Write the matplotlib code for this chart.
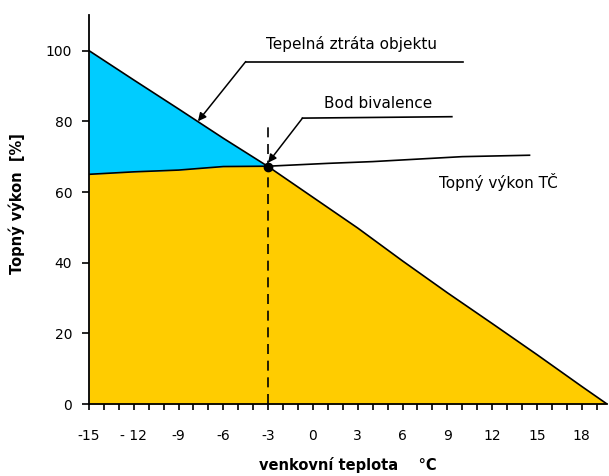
import matplotlib
matplotlib.use("Agg")
from matplotlib import pyplot as plt
import numpy as np

plt.rcParams['axes.unicode_minus'] = False

# outdoor temperature (deg C) and heat loss of the building (%)
loss_x = [-15, -12, -9, -6, -3, 0, 3, 6, 9, 12, 15, 18, 19.7]
loss_y = [100, 91.7, 83.5, 75.2, 67.2, 58.5, 49.8, 40.5, 31.5, 22.8, 14, 5, 0]

# heat pump output (%)
pump_x = [-15, -12, -9, -6, -3, 1, 4, 7, 10, 14.5]
pump_y = [65, 65.7, 66.2, 67.2, 67.3, 68.1, 68.6, 69.3, 70.0, 70.4]

biv_x = -3
biv_y = 67.2

x_ticks = [-15, -12, -9, -6, -3, 0, 3, 6, 9, 12, 15, 18]
x_labels = ['-15', '- 12', '-9', '-6', '-3', '0', '3', '6', '9', '12', '15', '18']
y_ticks = [0, 20, 40, 60, 80, 100]

fig = plt.figure(figsize=(6.09, 4.76), dpi=100)
ax = fig.add_axes([0.146, 0.151, 0.851, 0.817])

# fills
xx = np.linspace(-15, 19.7, 700)
loss_i = np.interp(xx, loss_x, loss_y)
pump_i = np.interp(xx, pump_x, pump_y)
low = np.minimum(loss_i, pump_i)
ax.fill_between(xx, 0, low, color='#FFCC00', lw=0)
ax.fill_between(xx, pump_i, loss_i, where=loss_i > pump_i, color='#00CCFF', lw=0)

# lines
ax.plot(loss_x, loss_y, color='black', lw=1.2)
ax.plot(pump_x, pump_y, color='black', lw=1.2)
ax.plot([biv_x, biv_x], [0, 80], color='black', lw=1.2, ls=(0, (6, 4)))
ax.plot(biv_x, biv_y, marker='o', color='black', ms=6)

# annotations
ax.plot([-4.5, 10.05], [96.9, 96.9], color='black', lw=1.2)
ax.annotate('', xy=(-7.7, 80), xytext=(-4.5, 96.9),
            arrowprops=dict(arrowstyle='-|>', color='black', lw=1.1, shrinkA=0, shrinkB=0,
                            mutation_scale=12))
ax.text(2.6, 102, 'Tepelná ztráta objektu', ha='center', va='center', fontsize=11)

ax.plot([-0.7, 9.3], [80.9, 81.3], color='black', lw=1.2)
ax.annotate('', xy=(-3.0, 68.3), xytext=(-0.7, 80.9),
            arrowprops=dict(arrowstyle='-|>', color='black', lw=1.1, shrinkA=0, shrinkB=0,
                            mutation_scale=12))
ax.text(4.35, 85, 'Bod bivalence', ha='center', va='center', fontsize=11)

ax.text(12.4, 62.9, 'Topný výkon TČ', ha='center', va='center', fontsize=11)

# axes
ax.set_xlim(-15, 19.7)
ax.set_ylim(0, 110)
ax.spines['top'].set_visible(False)
ax.spines['right'].set_visible(False)
ax.spines['left'].set_linewidth(1.3)
ax.spines['bottom'].set_linewidth(1.3)

ax.set_xticks(x_ticks)
ax.set_xticklabels(x_labels)
ax.set_xticks(np.arange(-15, 20, 1), minor=True)
ax.set_yticks(y_ticks)
ax.tick_params(axis='x', which='both', direction='out', length=4, width=1.2, pad=14, labelsize=10)
ax.tick_params(axis='y', direction='out', length=5, width=1.2, pad=7, labelsize=10)

ax.set_xlabel('venkovní teplota    °C', fontsize=10.5, fontweight='bold', labelpad=10)
ax.set_ylabel('Topný výkon  [%]', fontsize=10.5, fontweight='bold')
ax.yaxis.set_label_coords(-0.124, 0.517)

fig.savefig('out.png', dpi=100)
